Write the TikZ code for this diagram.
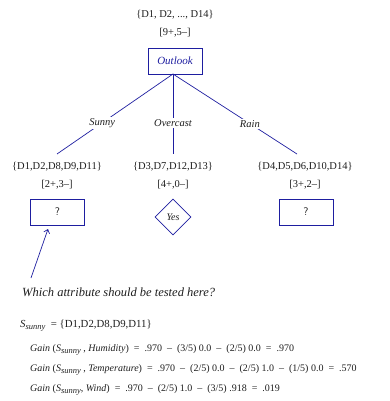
\documentclass[tikz,border=0pt]{standalone}
\usepackage{fontspec}
\setmainfont{Liberation Serif}
\usetikzlibrary{shapes.geometric,arrows.meta}
\definecolor{navy}{RGB}{30,30,160}
\definecolor{txt}{RGB}{30,30,30}
\newcommand\Ssub{\textit{S}\raisebox{-.45ex}{\textit{\fontsize{8.5}{9}\selectfont sunny}}}
\newcommand\mn{\ \ \textendash\ \ }
\newcommand\eqs{\ \ =\ \ }
\begin{document}
\begin{tikzpicture}[x=1pt,y=1pt,
  lbl/.style={font=\fontsize{10.5}{12}\selectfont, text=txt, inner sep=0pt},
  edge/.style={font=\fontsize{10.5}{12}\selectfont\itshape, text=txt, fill=white, inner sep=1.5pt},
  attr/.style={draw=navy, line width=0.7pt, minimum width=54pt, minimum height=26pt, inner sep=0pt},
  conn/.style={draw=navy, line width=0.7pt},
  gain/.style={font=\fontsize{10}{12}\selectfont, text=txt, anchor=west, inner sep=0pt}]
\useasboundingbox (0,0) rectangle (390,-401);
\node[lbl] (set0) at (175,-15) {\{D1, D2, ..., D14\}};
\node[lbl] (cnt0) at (175,-33) {[9+,5\textendash]};
\node[attr, font=\fontsize{11}{12}\selectfont\itshape, text=navy] (outlook) at (175,-61) {Outlook};

\coordinate (root) at (173,-74);
\coordinate (sunnyEnd) at (57,-154);
\coordinate (overEnd) at (173,-154);
\coordinate (rainEnd) at (297,-154);
\draw[conn] (root) -- (sunnyEnd) node[edge, pos=0.61] (sunny) {Sunny};
\draw[conn] (root) -- (overEnd) node[edge, pos=0.61] (overcast) {Overcast};
\draw[conn] (root) -- (rainEnd) node[edge, pos=0.62] (rain) {Rain};

\node[lbl] (set1) at (57,-167) {\{D1,D2,D8,D9,D11\}};
\node[lbl] (cnt1) at (57,-185) {[2+,3\textendash]};
\node[lbl] (set2) at (173,-167) {\{D3,D7,D12,D13\}};
\node[lbl] (cnt2) at (173,-185) {[4+,0\textendash]};
\node[lbl] (set3) at (305,-167) {\{D4,D5,D6,D10,D14\}};
\node[lbl] (cnt3) at (305,-185) {[3+,2\textendash]};

\node[attr, font=\sffamily\fontsize{11}{12}\selectfont, text=txt] (q1) at (57.5,-212) {?};
\node[attr, font=\sffamily\fontsize{11}{12}\selectfont, text=txt] (q2) at (306,-212) {?};
\node[draw=navy, line width=0.7pt, diamond, minimum width=36pt, minimum height=36pt, inner sep=0pt,
      font=\fontsize{10}{11}\selectfont\itshape, text=txt] (yes) at (173,-217) {Yes};

\coordinate (qtail) at (31,-278);
\draw[conn, -{Straight Barb[length=3.5pt,width=6pt]}] (qtail) -- (48,-229);
\node[font=\fontsize{12.5}{14}\selectfont\itshape, text=txt, anchor=west, inner sep=0pt] (question) at (22,-292) {Which attribute should be tested here?};

\node[gain, font=\fontsize{10.8}{12}\selectfont] (ss) at (20,-326) {\Ssub\ \ = \{D1,D2,D8,D9,D11\}};
\node[gain] (g1) at (30,-350) {\textit{Gain} (\Ssub\ , \textit{Humidity})\eqs .970\mn(3/5) 0.0\mn(2/5) 0.0\eqs .970};
\node[gain] (g2) at (30,-370) {\textit{Gain} (\Ssub\ , \textit{Temperature})\eqs .970\mn(2/5) 0.0\mn(2/5) 1.0\mn(1/5) 0.0\eqs .570};
\node[gain] (g3) at (30,-390) {\textit{Gain} (\Ssub, \textit{Wind})\ \ = \ .970\mn(2/5) 1.0\mn(3/5) .918\eqs .019};
\end{tikzpicture}
\end{document}
